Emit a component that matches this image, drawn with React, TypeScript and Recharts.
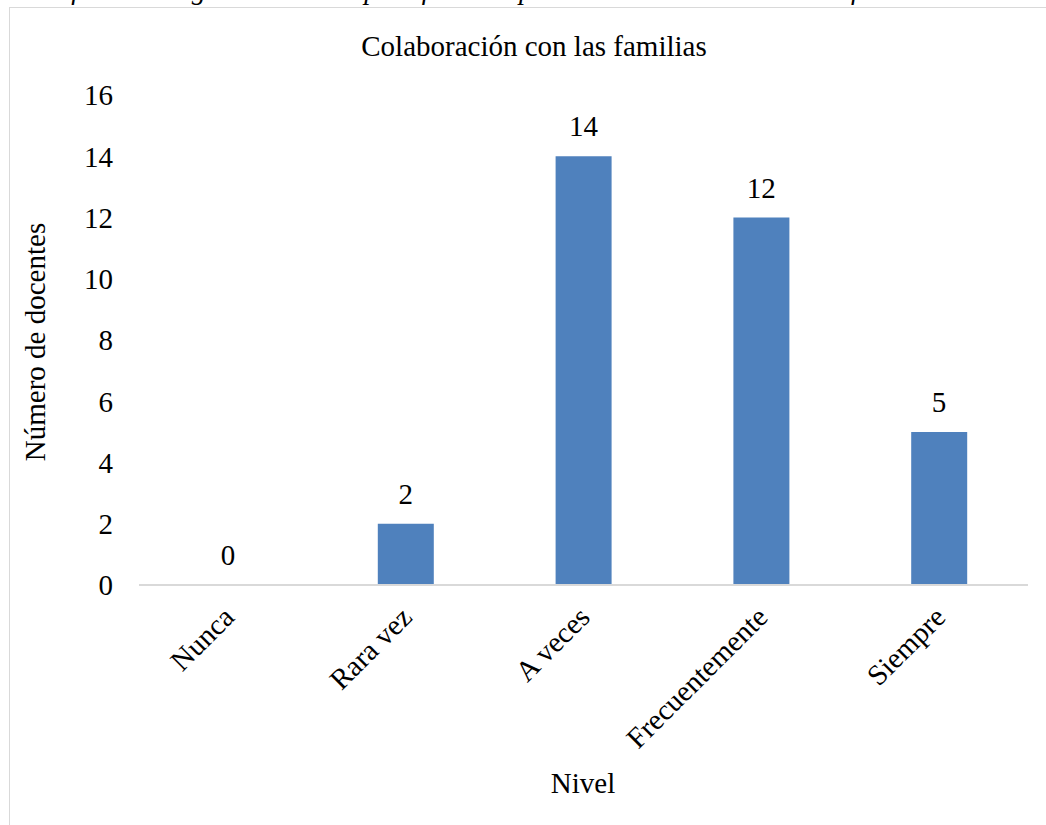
import React from "react";
import { ComposedChart, Bar, Line, XAxis, YAxis, LabelList } from "recharts";

const categories = ["Nunca", "Rara vez", "A veces", "Frecuentemente", "Siempre"];
const docentes = [0, 2, 14, 12, 5];
const yTicks = [0, 2, 4, 6, 8, 10, 12, 14, 16];

const data = categories.map((nivel, i) => ({ nivel, docentes: docentes[i] }));

const FONT = "Liberation Serif, Times New Roman, DejaVu Serif, serif";
const SIZE = 29;

function RotatedTick(props: any) {
    const { x, y, payload } = props;
    return (
        <text
            x={x + 8}
            y={y + 26}
            transform={`rotate(-45, ${x + 8}, ${y + 26})`}
            textAnchor="end"
            style={{ fontFamily: FONT, fontSize: SIZE }}
            fill="#000"
        >
            {payload.value}
        </text>
    );
}

export default function App() {
    return (
        <div
            style={{
                position: "fixed",
                left: 0,
                top: 0,
                width: 1046,
                height: 825,
                overflow: "hidden",
                background: "#fff",
                fontFamily: FONT,
            }}
        >
            {/* caption from the page above, mostly cut off */}
            <div style={{ position: "absolute", left: 0, top: 0, width: 1046, height: 5, overflow: "hidden" }}>
                <div
                    style={{
                        position: "absolute",
                        left: 12,
                        top: -24,
                        whiteSpace: "nowrap",
                        fontStyle: "italic",
                        fontSize: 28,
                        lineHeight: "28px",
                    }}
                >
                    Clasificación según nivel de la planificación para la colaboración con las familias
                </div>
            </div>

            <div
                style={{
                    position: "absolute",
                    left: 9,
                    top: 7,
                    width: 1100,
                    height: 900,
                    border: "1px solid #d9d9d9",
                }}
            />

            <div
                style={{
                    position: "absolute",
                    left: 0,
                    width: 1068,
                    top: 29,
                    textAlign: "center",
                    fontSize: SIZE,
                    lineHeight: "34px",
                }}
            >
                Colaboración con las familias
            </div>

            <div
                style={{
                    position: "absolute",
                    left: 35,
                    top: 342,
                    transform: "translate(-50%, -50%) rotate(-90deg)",
                    whiteSpace: "nowrap",
                    fontSize: SIZE,
                    lineHeight: "34px",
                }}
            >
                Número de docentes
            </div>

            <div
                style={{
                    position: "absolute",
                    left: 583,
                    top: 766,
                    transform: "translateX(-50%)",
                    fontSize: SIZE,
                    lineHeight: "34px",
                }}
            >
                Nivel
            </div>

            <div style={{ position: "absolute", left: 0, top: 0 }}>
                <ComposedChart
                    width={1046}
                    height={825}
                    data={data}
                    margin={{ top: 95, right: 18, bottom: 0, left: 0 }}
                    style={{ fontFamily: FONT }}
                >
                    <XAxis
                        dataKey="nivel"
                        height={240}
                        axisLine={{ stroke: "#d9d9d9", strokeWidth: 2 }}
                        tickLine={false}
                        interval={0}
                        tick={<RotatedTick />}
                    />
                    <YAxis
                        width={139}
                        domain={[0, 16]}
                        ticks={yTicks}
                        axisLine={false}
                        tickLine={false}
                        tickSize={0}
                        tickMargin={26}
                        tick={{ fontFamily: FONT, fontSize: SIZE, fill: "#000" }}
                    />
                    <Bar dataKey="docentes" fill="#4f81bd" barSize={56} isAnimationActive={false} />
                    {/* invisible line just to carry the value labels (bars of 0 drop theirs) */}
                    <Line
                        dataKey="docentes"
                        stroke="none"
                        dot={false}
                        activeDot={false}
                        legendType="none"
                        isAnimationActive={false}
                    >
                        <LabelList
                            dataKey="docentes"
                            position="top"
                            offset={20}
                            style={{ fontFamily: FONT, fontSize: SIZE }}
                            fill="#000"
                        />
                    </Line>
                </ComposedChart>
            </div>
        </div>
    );
}
